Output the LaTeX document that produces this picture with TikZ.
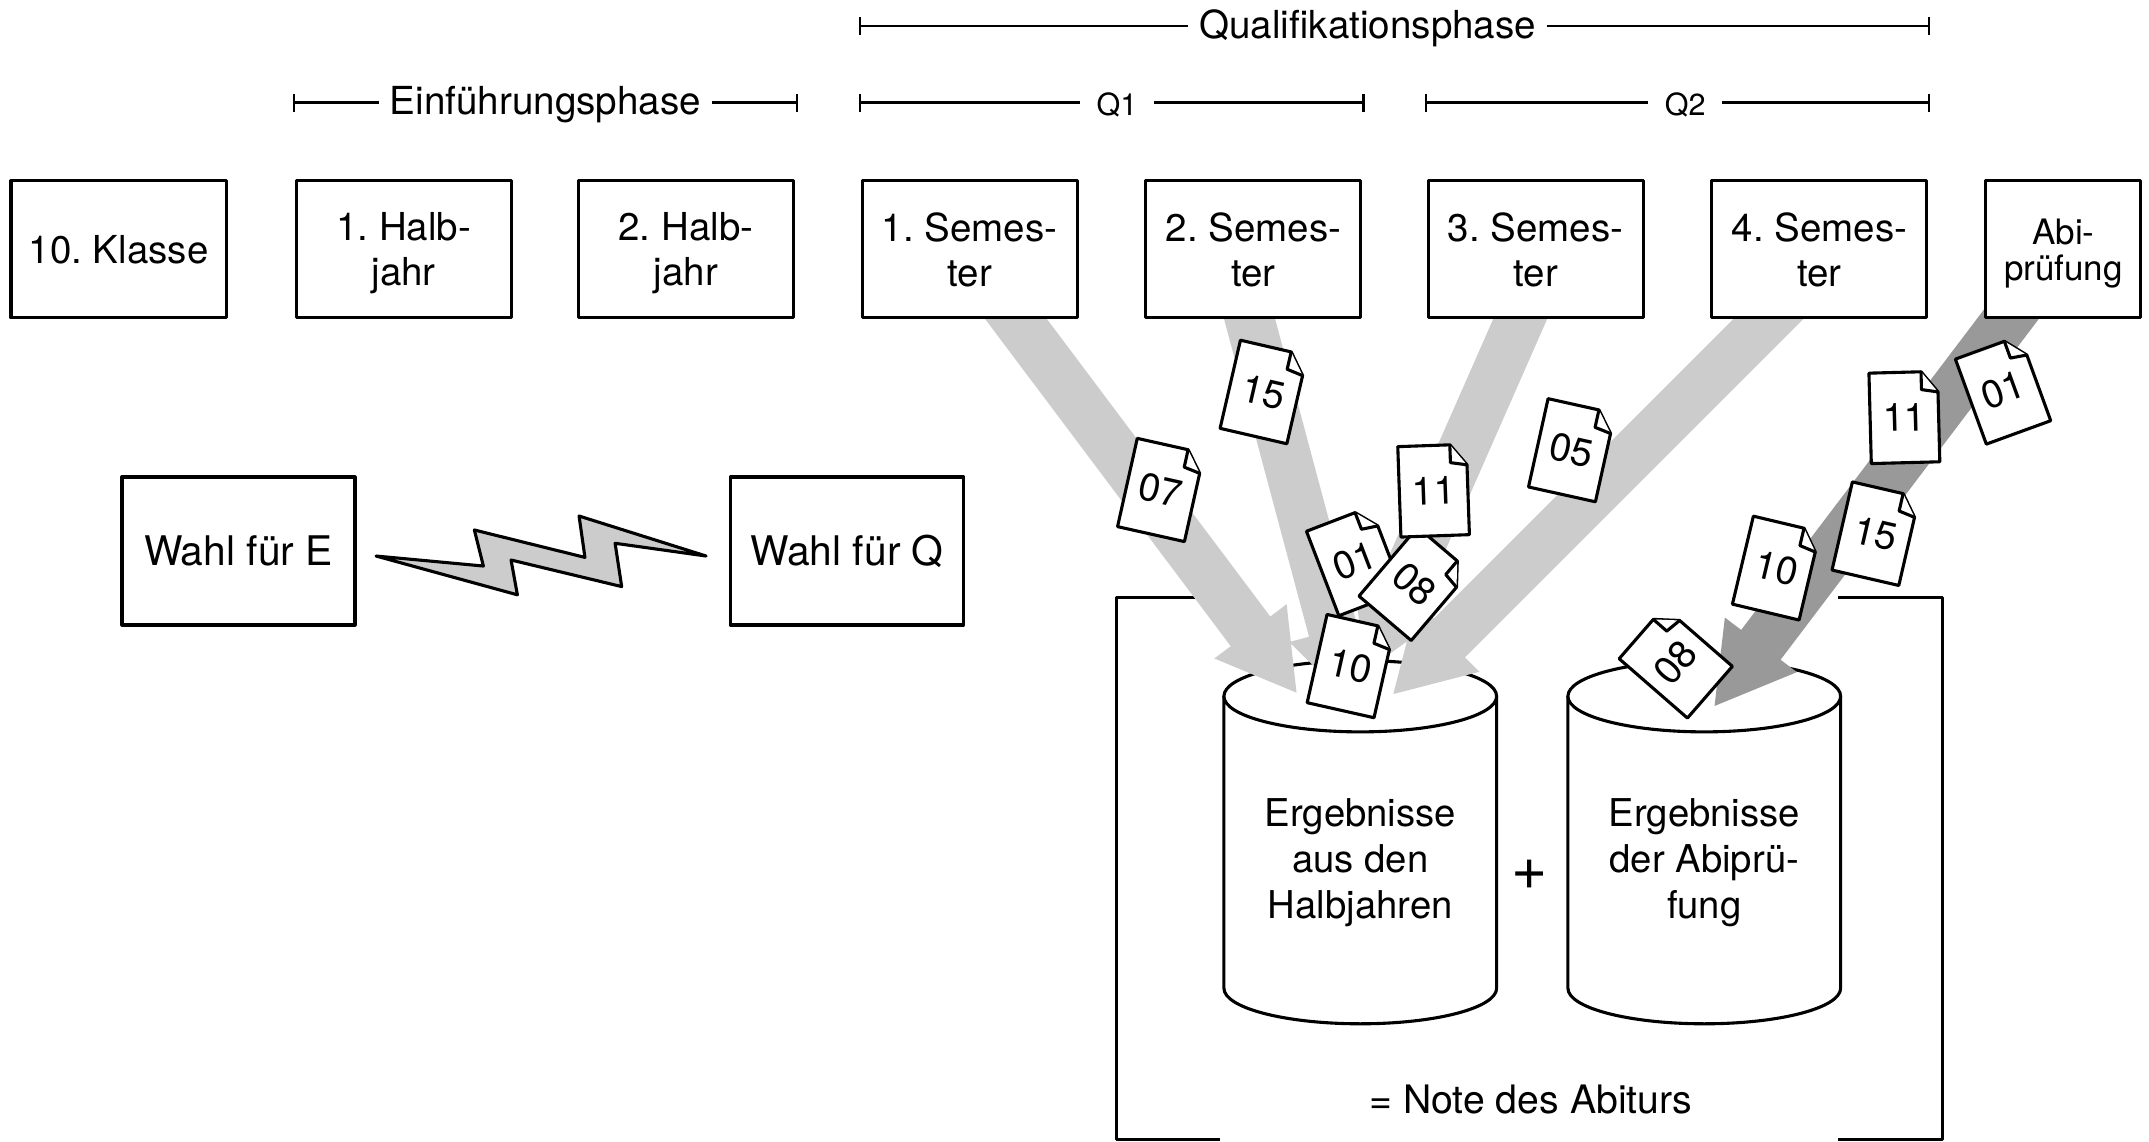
\documentclass[tikz,border=0pt]{standalone}
\usepackage{fontspec}
\setmainfont{TeX Gyre Heros}
\usetikzlibrary{arrows.meta,calc}
\definecolor{lightflow}{gray}{0.8}
\definecolor{darkflow}{gray}{0.6}
\frenchspacing
\tikzset{
    every picture/.style={line width=3.1pt,line join=round},
    stagebox/.style={draw,fill=white,minimum width=215pt,minimum height=137pt,inner sep=0pt,align=center,
        font=\fontsize{38.5}{45}\selectfont},
    abibox/.style={stagebox,minimum width=155pt,font=\fontsize{35}{36}\selectfont},
    choicebox/.style={draw,fill=white,minimum width=233pt,minimum height=148pt,inner sep=0pt,
        font=\fontsize{40.8}{48}\selectfont},
    spanline/.style={{Bar[width=18pt,line width=2.8pt]}-{Bar[width=18pt,line width=2.8pt]},line width=2.8pt},
    spanlabel/.style={fill=white,yshift=-2pt,inner xsep=11pt,inner ysep=0pt,font=\fontsize{38.6}{45}\selectfont},
    spansmall/.style={spanlabel,inner xsep=17pt,font=\fontsize{30.5}{36}\selectfont},
    paperedge/.style={draw,fill=white},
    papertext/.style={inner sep=0pt,transform shape,font=\fontsize{39}{39}\selectfont},
    bigtext/.style={inner sep=0pt,align=center,font=\fontsize{38.3}{46}\selectfont}
}
% a sheet with a folded corner
\newcommand{\paper}[5]{
    \begin{scope}[shift={(#2,#3)},rotate=#4]
        \draw[paperedge] (-25,-33) -- (13,-33) -- (25,-18) -- (25,33) -- (-25,33) -- cycle;
        \draw[paperedge] (13,-33) -- (13,-20) -- (25,-18);
        \node[papertext] (#1) at (0,0) {#5};
    \end{scope}
}
% wide arrow from a tail to a tip
\newcommand{\blockarrow}[3]{
    \coordinate (base) at ($(#2)!76.7pt!(#1)$);
    \fill[#3] ($(#1)!24.7pt!90:(#2)$) -- ($(base)!24.7pt!90:(#2)$) -- ($(base)!45.2pt!90:(#2)$) -- (#2)
        -- ($(base)!45.2pt!-90:(#2)$) -- ($(base)!24.7pt!-90:(#2)$) -- ($(#1)!24.7pt!-90:(#2)$) -- cycle;
}
% barrel, x is the centre
\newcommand{\barrel}[1]{
    \draw[fill=white] (#1-99.5,508) -- (#1-99.5,721) .. controls (#1-99.5,735.4) and (#1-55,747) .. (#1,747)
        .. controls (#1+55,747) and (#1+99.5,735.4) .. (#1+99.5,721) -- (#1+99.5,508);
    \draw[fill=white] (#1-99.5,508) .. controls (#1-99.5,493.6) and (#1-55,482) .. (#1,482)
        .. controls (#1+55,482) and (#1+99.5,493.6) .. (#1+99.5,508)
        .. controls (#1+99.5,522.4) and (#1+55,534) .. (#1,534)
        .. controls (#1-55,534) and (#1-99.5,522.4) .. (#1-99.5,508) -- cycle;
}

\begin{document}
\begin{tikzpicture}[x=1.3705pt,y=-1.3705pt]
    \useasboundingbox (0,0) rectangle (1568,833.25);

    % frame round the barrels
    \coordinate (fla) at (890,436);
    \coordinate (flb) at (814.5,436);
    \coordinate (flc) at (814.5,831.5);
    \coordinate (fld) at (890,831.5);
    \coordinate (fra) at (1341,436);
    \coordinate (frb) at (1417.5,436);
    \coordinate (frc) at (1417.5,831.5);
    \coordinate (frd) at (1341,831.5);
    \draw (fla) -- (flb) -- (flc) -- (fld);
    \draw (fra) -- (frb) -- (frc) -- (frd);

    \barrel{992.5}
    \barrel{1243.5}
    \node[bigtext] (halbjahre) at (992.5,629.5) {Ergebnisse\\aus den\\Halbjahren};
    \node[bigtext] (pruefung) at (1243.5,629.5) {Ergebnisse\\der Abiprü-\\fung};
    \node[bigtext,font=\fontsize{62}{62}\selectfont] (plus) at (1116,638) {+};
    \node[bigtext,font=\fontsize{39.2}{46}\selectfont] (note) at (1117,802) {= Note des Abiturs};

    % flows
    \coordinate (taila) at (728,215);
    \coordinate (tipa) at (946,505.4);
    \coordinate (tailb) at (907,215);
    \coordinate (tipb) at (987,514);
    \coordinate (tailc) at (1117,215);
    \coordinate (tipc) at (996,490);
    \coordinate (taild) at (1308,215);
    \coordinate (tipd) at (1016.6,506.4);
    \coordinate (taile) at (1478.4,215);
    \coordinate (tipe) at (1251,515.1);
    \blockarrow{taila}{tipa}{lightflow}
    \blockarrow{tailb}{tipb}{lightflow}
    \blockarrow{tailc}{tipc}{lightflow}
    \blockarrow{taild}{tipd}{lightflow}
    \blockarrow{taile}{tipe}{darkflow}

    % school years
    \node[stagebox] (klasse) at (86.5,182) {10. Klasse};
    \node[stagebox] (halba) at (294.5,182) {1. Halb-\\\smash{jahr}};
    \node[stagebox] (halbb) at (500.5,182) {2. Halb-\\\smash{jahr}};
    \node[stagebox] (sema) at (707.5,182) {1. Semes-\\ter};
    \node[stagebox] (semb) at (914.5,182) {2. Semes-\\ter};
    \node[stagebox] (semc) at (1120.5,182) {3. Semes-\\ter};
    \node[stagebox] (semd) at (1327.5,182) {4. Semes-\\ter};
    \node[abibox] (abi) at (1505.5,182) {Abi-\\\smash{prüfung}};

    % choice
    \node[choicebox] (wahle) at (174,402) {Wahl für E};
    \node[choicebox] (wahlq) at (618,402) {Wahl für Q};
    \draw[fill=lightflow] (274.4,405.7) -- (352.7,413) -- (346.1,386.7) -- (426.8,406.7) -- (422.5,376.5)
        -- (515.2,405.7) -- (448.8,396.4) -- (453.6,428) -- (372.9,408.6) -- (377.5,434) -- cycle;

    % phases
    \coordinate (qstart) at (626.5,19);
    \coordinate (qend) at (1408.5,19);
    \coordinate (estart) at (213.5,75);
    \coordinate (eend) at (582.5,75);
    \coordinate (qastart) at (626.5,75);
    \coordinate (qaend) at (996,75);
    \coordinate (qbstart) at (1039.5,75);
    \coordinate (qbend) at (1408.5,75);
    \draw[spanline] (qstart) -- node[spanlabel,pos=0.475] (qphase) {Qualifikationsphase} (qend);
    \draw[spanline] (estart) -- node[spanlabel] (ephase) {Einführungsphase} (eend);
    \draw[spanline] (qastart) -- node[spansmall,pos=0.51] (qa) {Q1} (qaend);
    \draw[spanline] (qbstart) -- node[spansmall,pos=0.515] (qb) {Q2} (qbend);

    % sheets
    \paper{pa}{847}{357.5}{-12.6}{07}
    \paper{pb}{922}{286}{-13}{15}
    \paper{pc}{988.4}{409.5}{21}{01}
    \paper{pd}{1032}{426}{-40.4}{08}
    \paper{pe}{1046}{358}{2}{11}
    \paper{pf}{985.4}{486}{-12.7}{10}
    \paper{pg}{1146.8}{328.5}{-12.5}{05}
    \paper{ph}{1389.5}{304.6}{1.5}{11}
    \paper{pi}{1461.5}{284.5}{20}{01}
    \paper{pj}{1368.5}{389.4}{-13}{15}
    \paper{pk}{1296}{414.5}{-13.4}{10}
    \paper{pl}{1222.7}{483.4}{49}{08}
\end{tikzpicture}
\end{document}
